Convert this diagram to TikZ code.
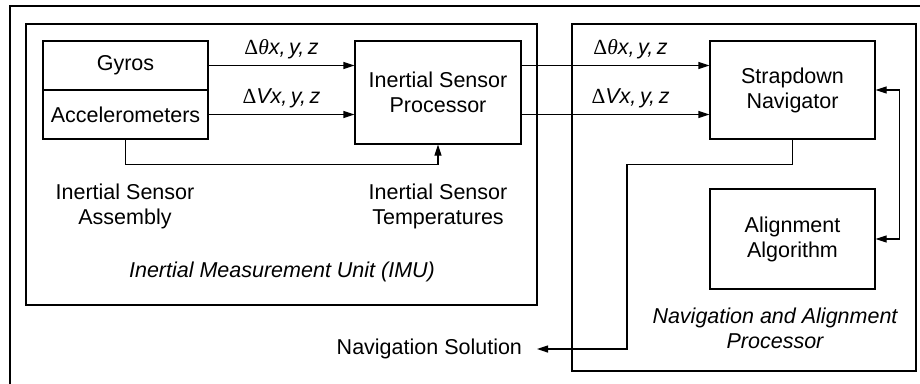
\documentclass[tikz,border=0pt]{standalone}
\usepackage{fontspec}
\setmainfont{Liberation Sans}
\newfontfamily\grkfont{Liberation Serif}
\usetikzlibrary{arrows.meta}
\newcommand\dtheta{{\grkfont Δ\itshape θ}\textit{x,\,y,\,z}}
\newcommand\dvel{{\grkfont Δ}\textit{Vx,\,y,\,z}}
\tikzset{
  txt/.style={font=\fontsize{21.5}{25}\selectfont, align=center, inner sep=0pt},
  itxt/.style={txt, font=\fontsize{21.5}{25}\selectfont\itshape},
  blk/.style={draw, line width=1.2pt, txt},
  frame/.style={draw, line width=2pt},
  conn/.style={line width=1.2pt},
  arr/.style={conn, -{Triangle[length=11pt,width=7pt]}},
  barr/.style={conn, {Triangle[length=11pt,width=7pt]}-{Triangle[length=11pt,width=7pt]}},
}
\begin{document}
\begin{tikzpicture}[x=1pt,y=-1pt]
\useasboundingbox (0,0) rectangle (920,383);
\fill[white] (0,0) rectangle (920,383);
% outer frame (clipped at right and bottom)
\draw[line width=2.3pt] (10,390) -- (10,6) -- (930,6);
% group frames
\draw[frame] (26,24) rectangle (537,305);
\draw[frame] (572,24) rectangle (916,371);
% blocks
\node[blk, minimum width=165pt, minimum height=49pt] (gyro) at (125.5,65.5) {Gyros};
\node[blk, minimum width=165pt, minimum height=49pt] (acc) at (125.5,114.5) {Accelerometers};
\node[blk, minimum width=166pt, minimum height=103pt] (isp) at (438,92.5) {Inertial Sensor\\Processor};
\node[blk, minimum width=165pt, minimum height=98pt] (sdn) at (792.5,90) {Strapdown\\Navigator};
\node[blk, minimum width=165pt, minimum height=100pt] (alg) at (792.5,239) {Alignment\\Algorithm};
% text labels
\node[txt] (isa) at (125,206) {Inertial Sensor\\Assembly};
\node[txt] (ist) at (438,206) {Inertial Sensor\\Temperatures};
\node[itxt] (imu) at (282,272) {Inertial Measurement Unit (IMU)};
\node[itxt] (nap) at (775,328) {Navigation and Alignment\\Processor};
\node[txt, outer xsep=15pt, anchor=east] (navsol) at (537,349) {Navigation Solution};
% connectors
\draw[arr] (gyro.east) -- node[txt, above=6pt] {\dtheta} (isp.west |- gyro.east);
\draw[arr] (acc.east) -- node[txt, above=6pt] {\dvel} (isp.west |- acc.east);
\draw[arr] (isp.east |- gyro.east) -- node[txt, above=6pt, pos=0.58] {\dtheta} (sdn.west |- gyro.east);
\draw[arr] (isp.east |- acc.east) -- node[txt, above=6pt, pos=0.58] {\dvel} (sdn.west |- acc.east);
\draw[arr] (acc.south) -- ++(0,25) -| (isp.south);
\draw[arr] (sdn.south) -- ++(0,25) -| (627,349) -- (navsol.east);
\draw[barr] (sdn.east) -- ++(24,0) |- (alg.east);
\end{tikzpicture}
\end{document}
